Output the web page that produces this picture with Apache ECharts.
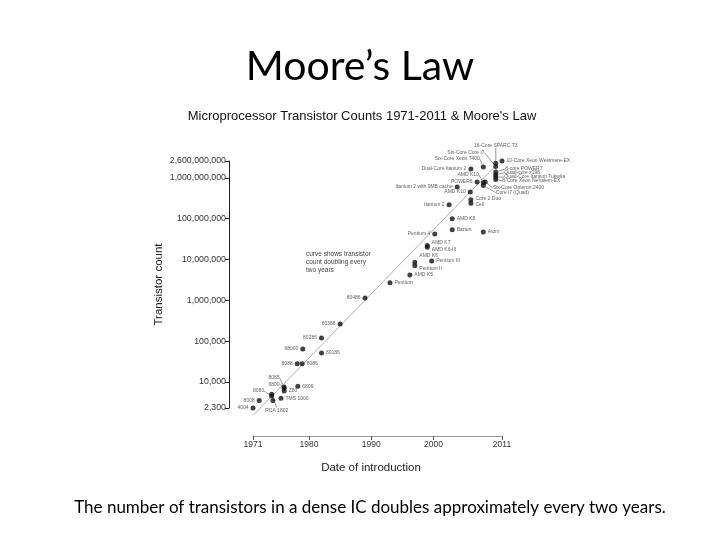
<!DOCTYPE html>
<html><head><meta charset="utf-8">
<script src="https://cdn.jsdelivr.net/npm/echarts@6/dist/echarts.min.js"></script>
<style>html,body{margin:0;padding:0;background:#fff}#c{width:720px;height:540px}</style>
</head><body><div id="c"></div>
<script>
// ---- data ----
const names = ["4004","8008","8080","RCA 1802","","TMS 1000","8085","6800","Z80","6809",
  "8088","8086","68000","80186","80286","80386","80486","Pentium","AMD K5","Pentium II",
  "AMD K6","Pentium III","AMD K7","AMD K6-III","Pentium 4","Barton","Atom","AMD K8","Itanium 2","Core 2 Duo",
  "Cell","AMD K10","Itanium 2 with 9MB cache","POWER6","AMD K10","Six-Core Opteron 2400","Core i7 (Quad)","Dual-Core Itanium 2","Six-Core Xeon 7400","Six-Core Core i7",
  "16-Core SPARC T3","10-Core Xeon Westmere-EX","8-core POWER7","Quad-core z196","Quad-Core Itanium Tukwila","8-Core Xeon Nehalem-EX"];
const years = [1971,1972,1974,1974,1974.2,1975.5,1976,1976,1976,1978.2,
  1978.1,1978.9,1979,1982,1982,1985,1989,1993,1996.2,1997,
  1997,1999.7,1999,1999,2000.2,2003,2008,2003,2002.5,2006,
  2006,2005.9,2003.8,2007,2008,2008.3,2008,2006,2008,2010,
  2010,2011,2010,2010,2010,2010];
const counts = [2300,3500,4500,5000,3500,4000,7500,7000,6000,7900,
  28000,28000,64000,51000,120000,264000,1140000,2700000,4200000,7000000,
  8600000,9200000,22000000,20000000,42000000,54000000,47000000,100000000,220000000,291000000,
  241000000,450000000,600000000,795000000,760000000,800000000,650000000,1660000000,1850000000,1900000000,
  2300000000,2600000000,1400000000,1200000000,1050000000,920000000];
const trendYears = [1971, 2010];
const trendCounts = [1500, 2000000000];
const yTickValues = [2300, 10000, 100000, 1000000, 10000000, 100000000, 1000000000, 2600000000];
const xTickValues = [1971, 1980, 1990, 2000, 2011];

// ---- label placement (style only) : [position, dx, dy, leader] ----
const placement = [
  ['left',0,0,0],['left',0,0,0],['left',-3,-5,1],['right',-11,16,1],['left',0,0,0],['right',0,0,0],['left',0,-9,1],['left',0,-4,1],['right',0,0,0],['right',0,0,0],
  ['left',0,0,0],['right',0,0,0],['left',0,0,0],['right',0,0,0],['left',0,0,0],['left',0,0,0],['left',0,0,0],['right',0,0,0],['right',0,0,0],['right',0,3,0],
  ['right',0,-7,0],['right',0,0,0],['right',0,-2.5,0],['right',0,2.5,0],['left',0,0,0],['right',0,0,0],['right',0,0,0],['right',0,0,0],['left',0,0,0],['right',0,-1,0],
  ['right',0,1.5,0],['left',0,0,0],['left',0,0,0],['left',0,0,0],['left',0,-8,1],['right',3,6,1],['right',8,7,1],['left',0,0,0],['left',1,-8,1],['left',-7,-14,1],
  ['top',0,-11,1],['right',0,0,0],['right',5,-3,1],['right',4,-2,1],['right',4,0,1],['right',2,1.5,1]
];

const points = names.map((n, i) => ({
  name: n,
  value: [years[i], counts[i]],
  label: { show: n !== '', position: placement[i][0] },
  labelLine: { show: !!placement[i][3] }
}));
const trend = trendYears.map((y, i) => [y, trendCounts[i]]);

const chart = echarts.init(document.getElementById('c'), null, { renderer: 'canvas' });
const sans = 'Liberation Sans, Arial, sans-serif';
chart.setOption({
  backgroundColor: '#fff',
  animation: false,
  grid: { left: 253, right: 218, top: 161, bottom: 132 },
  xAxis: {
    type: 'value', min: 1971, max: 2011, offset: 28,
    splitLine: { show: false },
    axisLine: { show: true, lineStyle: { color: '#999', width: 1 } },
    axisTick: { show: true, length: 4, lineStyle: { color: '#555' }, customValues: xTickValues },
    axisLabel: { color: '#333', fontSize: 8.5, fontFamily: sans, margin: 4, customValues: xTickValues,
      formatter: v => String(v) },
    name: 'Date of introduction', nameLocation: 'middle', nameGap: 26,
    nameTextStyle: { color: '#222', fontSize: 11.5, fontFamily: sans, padding: [0, 13, 0, 0] }
  },
  yAxis: {
    type: 'log', logBase: 10, min: 2300, max: 2600000000, offset: 24,
    splitLine: { show: false },
    axisLine: { show: true, lineStyle: { color: '#222', width: 1 } },
    axisTick: { show: true, length: 4, lineStyle: { color: '#222' }, customValues: yTickValues },
    axisLabel: { color: '#333', fontSize: 8.8, fontFamily: sans, margin: 3, customValues: yTickValues,
      formatter: v => Math.round(v).toLocaleString('en-US') },
    name: 'Transistor count', nameLocation: 'middle', nameGap: 64, nameRotate: 90,
    nameTextStyle: { color: '#222', fontSize: 11.5, fontFamily: sans }
  },
  series: [
    {
      type: 'line', data: trend, symbol: 'none', clip: false, z: 1,
      lineStyle: { color: '#999', width: 0.8 }
    },
    {
      type: 'scatter', data: points, symbol: 'circle', symbolSize: 5, clip: false, z: 3,
      itemStyle: { color: '#111' },
      label: { show: true, formatter: '{b}', fontSize: 5, fontFamily: sans, color: '#333', distance: 2 },
      labelLine: { lineStyle: { color: '#333', width: 0.5 }, length2: 0 },
      labelLayout: p => ({ dx: placement[p.dataIndex][1], dy: placement[p.dataIndex][2] })
    }
  ],
  graphic: [
    { type: 'text', x: 360, y: 67, style: { text: 'Moore’s Law', font: '41px Lato, "Open Sans", sans-serif', fill: '#000', textAlign: 'center', textVerticalAlign: 'middle' } },
    { type: 'text', x: 362, y: 116, style: { text: "Microprocessor Transistor Counts 1971-2011 & Moore's Law", font: '13px "Liberation Sans", Arial, sans-serif', fill: '#111', textAlign: 'center', textVerticalAlign: 'middle' } },
    { type: 'text', x: 306, y: 250, style: { text: 'curve shows transistor\ncount doubling every\ntwo years', font: '6.5px "Liberation Sans", Arial, sans-serif', fill: '#444', lineHeight: 8 } },
    { type: 'text', x: 370, y: 508, style: { text: 'The number of transistors in a dense IC doubles approximately every two years.', font: '17px Lato, "Open Sans", sans-serif', fill: '#000', textAlign: 'center', textVerticalAlign: 'middle' } }
  ]
});
</script></body></html>
